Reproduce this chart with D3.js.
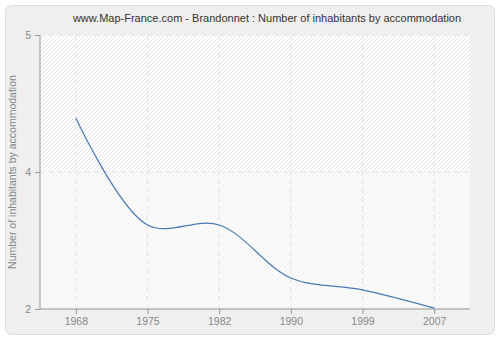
<!DOCTYPE html>
<html><head><meta charset="utf-8">
<script src="https://cdn.jsdelivr.net/npm/d3@7"></script>
<style>body{margin:0;background:#fff}svg{display:block}</style>
</head><body>
<script>
const years = ["1968","1975","1982","1990","1999","2007"];
const values = [4.09, 2.92, 2.92, 2.34, 2.21, 2.01];
const yTicks = [2, 3.5, 5];
const yTickLabels = ["2", "4", "5"];
const title = "www.Map-France.com - Brandonnet : Number of inhabitants by accommodation";
const yTitle = "Number of inhabitants by accommodation";

const W = 500, H = 340;
const m = {l: 40, r: 30, t: 35, b: 31};
const svg = d3.select("body").append("svg").attr("width", W).attr("height", H);
const defs = svg.append("defs");
const p1 = defs.append("pattern").attr("id","h1").attr("patternUnits","userSpaceOnUse").attr("width",4).attr("height",4);
p1.append("rect").attr("width",4).attr("height",4).attr("fill","#ffffff");
p1.append("path").attr("d","M-1,1 l2,-2 M0,4 l4,-4 M3,5 l2,-2").attr("stroke","#e4e4e4").attr("stroke-width",1);
const p2 = defs.append("pattern").attr("id","h2").attr("patternUnits","userSpaceOnUse").attr("width",4).attr("height",4);
p2.append("rect").attr("width",4).attr("height",4).attr("fill","#fbfbfb");
p2.append("path").attr("d","M-1,1 l2,-2 M0,4 l4,-4 M3,5 l2,-2").attr("stroke","#f1f1f1").attr("stroke-width",1);

svg.append("rect").attr("x",5.5).attr("y",5.5).attr("width",489).attr("height",329).attr("rx",6)
  .attr("fill","#efefef").attr("stroke","#dcdcdc");

const x = d3.scalePoint().domain(years).range([m.l, W - m.r]).padding(0.5);
const y = d3.scaleLinear().domain([2, 5]).range([H - m.b, m.t]);

svg.append("rect").attr("x",m.l).attr("y",y(5)).attr("width",W-m.r-m.l).attr("height",y(3.5)-y(5)).attr("fill","url(#h1)");
svg.append("rect").attr("x",m.l).attr("y",y(3.5)).attr("width",W-m.r-m.l).attr("height",y(2)-y(3.5)).attr("fill","url(#h2)");

// grid
svg.append("g").selectAll("line").data(years).join("line")
  .attr("x1",d=>x(d)).attr("x2",d=>x(d)).attr("y1",m.t).attr("y2",H-m.b)
  .attr("stroke","#e2e2e2").attr("stroke-dasharray","5,4");
svg.append("g").selectAll("line").data(yTicks).join("line")
  .attr("x1",m.l).attr("x2",W-m.r).attr("y1",d=>y(d)).attr("y2",d=>y(d))
  .attr("stroke","#e2e2e2").attr("stroke-dasharray","5,4");

const font = "Liberation Sans, Arial, sans-serif";
const yAxis = svg.append("g").attr("transform",`translate(${m.l},0)`)
  .call(d3.axisLeft(y).tickValues(yTicks).tickFormat((d,i)=>yTickLabels[i]).tickSize(5).tickPadding(4));
const xAxis = svg.append("g").attr("transform",`translate(0,${H-m.b})`)
  .call(d3.axisBottom(x).tickSize(5).tickPadding(4).tickSizeOuter(0));
[yAxis, xAxis].forEach(g=>{
  g.selectAll("path.domain").attr("stroke","#999");
  g.selectAll(".tick line").attr("stroke","#999");
  g.selectAll("text").attr("fill","#888").style("font-family",font).style("font-size","10.5px");
});
yAxis.select("path.domain").attr("d",`M-0,${m.t}V${H-m.b}`);
xAxis.select("path.domain").attr("d",`M${m.l},0H${W-m.r}`);

const line = d3.line().x((d,i)=>x(years[i])).y(d=>y(d)).curve(d3.curveCatmullRom);
svg.append("path").datum(values).attr("d",line).attr("fill","none").attr("stroke","#4a7ab2").attr("stroke-width",1.2);

svg.append("text").attr("x",267).attr("y",22).attr("text-anchor","middle")
  .style("font-family",font).style("font-size","11px").attr("fill","#333").text(title);
svg.append("text").attr("transform",`translate(16,${(m.t+H-m.b)/2}) rotate(-90)`).attr("text-anchor","middle")
  .style("font-family",font).style("font-size","10.5px").attr("fill","#888").text(yTitle);
</script>
</body></html>
